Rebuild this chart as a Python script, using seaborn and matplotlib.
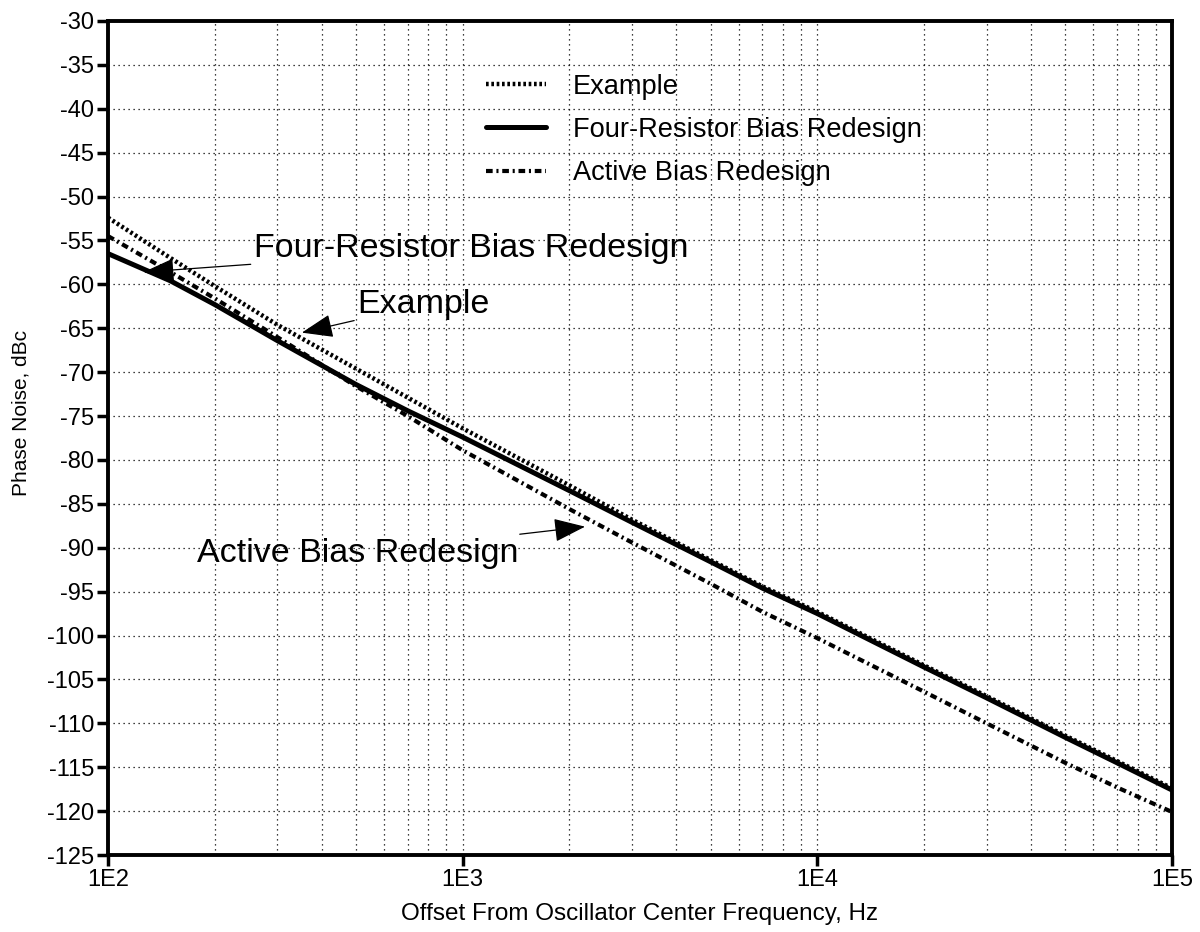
import numpy as np
import pandas as pd
import matplotlib
matplotlib.use("Agg")
import matplotlib.pyplot as plt
import seaborn as sns

# ---- data ----
freq_hz = [100, 150, 200, 300, 500, 700, 1000, 2000, 3000, 5000, 7000,
           10000, 20000, 30000, 50000, 70000, 100000]
example_dbc = [-52.4, -57.0, -60.2, -64.6, -69.6, -72.9, -76.4, -82.9, -86.8,
               -91.4, -94.4, -97.3, -103.4, -106.9, -111.4, -114.3, -117.4]
four_resistor_dbc = [-56.5, -59.6, -62.3, -66.4, -71.4, -74.4, -77.4, -83.5, -87.1,
                     -91.6, -94.6, -97.5, -103.6, -107.1, -111.6, -114.5, -117.6]
active_dbc = [-54.5, -58.6, -61.6, -66.0, -71.6, -75.0, -78.9, -85.6, -89.4,
              -94.1, -97.3, -100.3, -106.4, -110.0, -114.5, -117.3, -120.1]
series_names = ["Example", "Four-Resistor Bias Redesign", "Active Bias Redesign"]
y_ticks = list(range(-125, -29, 5))
x_ticks = [1e2, 1e3, 1e4, 1e5]
x_tick_labels = ["1E2", "1E3", "1E4", "1E5"]

df = pd.DataFrame({
    "freq": freq_hz * 3,
    "pn": example_dbc + four_resistor_dbc + active_dbc,
    "series": [series_names[0]] * len(freq_hz) + [series_names[1]] * len(freq_hz)
              + [series_names[2]] * len(freq_hz),
})

sns.set_style("white")
plt.rcParams['font.family'] = ['Liberation Sans', 'DejaVu Sans']
plt.rcParams['text.color'] = 'black'
plt.rcParams['axes.labelcolor'] = 'black'
plt.rcParams['xtick.color'] = 'black'
plt.rcParams['ytick.color'] = 'black'

fig = plt.figure(figsize=(12, 9.32), dpi=100)
ax = fig.add_axes([0.09, 0.0826, 0.8867, 0.8949])

styles = {
    series_names[0]: dict(linestyle=(0, (0.6, 0.6)), linewidth=3.2),
    series_names[1]: dict(linestyle="-", linewidth=3.6),
    series_names[2]: dict(linestyle=(0, (1.6, 0.9, 0.5, 0.9)), linewidth=3.0),
}
for name in series_names:
    sub = df[df["series"] == name]
    sns.lineplot(data=sub, x="freq", y="pn", ax=ax, color="black",
                 label=name, **styles[name])

ax.set_xscale("log")
ax.set_xlim(1e2, 1e5)
ax.set_ylim(-125, -30)
ax.set_yticks(y_ticks)
ax.set_yticklabels([str(v) for v in y_ticks])
ax.set_xticks(x_ticks)
ax.set_xticklabels(x_tick_labels)

ax.grid(True, which="major", color="black", linestyle=(0, (1, 3)), linewidth=0.9)
ax.grid(True, which="minor", axis="x", color="black", linestyle=(0, (1, 3)), linewidth=0.9)
ax.tick_params(axis="both", which="major", direction="out", length=8, width=2.5,
               labelsize=17, pad=2, left=True, bottom=True)
ax.tick_params(axis="x", which="minor", length=0)
for side in ["left", "right", "top", "bottom"]:
    ax.spines[side].set_visible(True)
    ax.spines[side].set_color("black")
    ax.spines[side].set_linewidth(2.8)

ax.set_xlabel("Offset From Oscillator Center Frequency, Hz", fontsize=17.5, labelpad=9)
ax.set_ylabel("Phase Noise, dBc", fontsize=15)
ax.yaxis.set_label_coords(-0.073, 0.53)

leg = ax.legend(loc="upper left", bbox_to_anchor=(0.332, 0.966), frameon=False,
                fontsize=19.6, handlelength=2.2, handletextpad=1.0, labelspacing=0.63)

arrow = dict(arrowstyle="-|>,head_length=0.8,head_width=0.3", color="black",
             lw=0.9, shrinkA=0, shrinkB=0)
ax.annotate("Four-Resistor Bias Redesign", xy=(126, -58.6), xytext=(258, -55.9),
            fontsize=24.5, ha="left", va="center", arrowprops=arrow)
ax.annotate("Example", xy=(352, -65.5), xytext=(505, -62.3),
            fontsize=24.5, ha="left", va="center", arrowprops=arrow)
ax.annotate("Active Bias Redesign", xy=(2213, -87.6), xytext=(178, -90.6),
            fontsize=24.5, ha="left", va="center", arrowprops=arrow)

fig.savefig("out.png", dpi=100)
